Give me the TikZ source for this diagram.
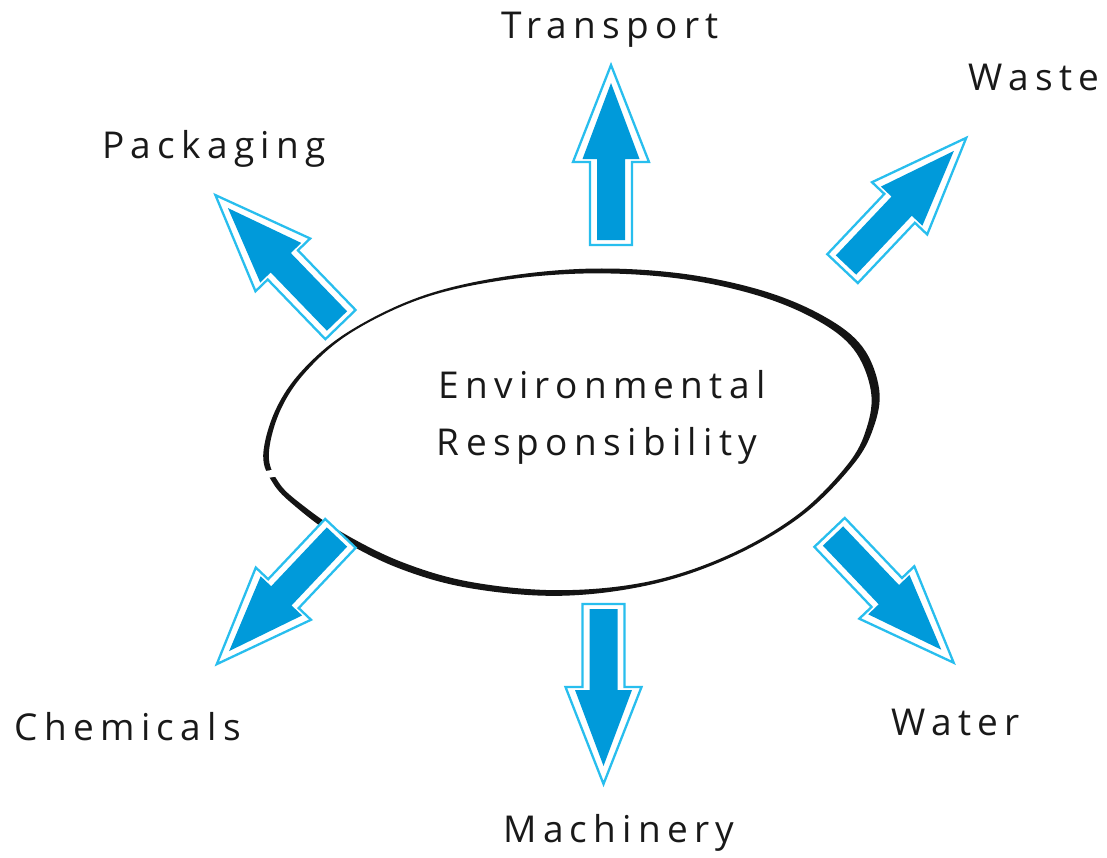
\documentclass[tikz,border=0pt]{standalone}
\usepackage{fontspec}
\setmainfont{Open Sans}[LetterSpace=17]
\usetikzlibrary{calc}
\definecolor{arrblue}{RGB}{0,154,218}
\definecolor{arrcyan}{RGB}{40,190,238}
\tikzset{
  barrow/.pic={
    \draw[arrcyan, line width=2.3pt, fill=white, line join=miter]
      (-5,-21) -- (78,-21) -- (78,-38) -- (175,0) -- (78,38) -- (78,21) -- (-5,21) -- cycle;
    \fill[arrblue]
      (0,-14) -- (81,-14) -- (81,-28.5) -- (157,0) -- (81,28.5) -- (81,14) -- (0,14) -- cycle;
  },
  lbl/.style={font=\fontsize{37}{40}\selectfont, anchor=base, inner sep=0pt, text=black!90}
}
\begin{document}
\begin{tikzpicture}[x=1pt,y=-1pt]
\useasboundingbox[fill=white] (0,0) rectangle (1107,857);
\coordinate (c) at (570,432);
% egg outline with varying width
\fill[black!92, even odd rule]
  plot[smooth cycle, tension=0.6] coordinates {
    ($(266,455)!-2.8pt!(c)$) ($(278,410)!-2.4pt!(c)$) ($(305,370)!-2pt!(c)$)
    ($(350,332)!-1.3pt!(c)$) ($(420,298)!-1.3pt!(c)$) ($(500,279)!-1.7pt!(c)$)
    ($(590,271)!-2.4pt!(c)$) ($(680,276)!-3pt!(c)$) ($(760,293)!-3.8pt!(c)$)
    ($(820,318)!-4.2pt!(c)$) ($(858,348)!-4.5pt!(c)$) ($(875,390)!-4.2pt!(c)$)
    ($(870,428)!-3.4pt!(c)$) ($(850,465)!-2.6pt!(c)$) ($(800,515)!-2pt!(c)$)
    ($(730,556)!-1.7pt!(c)$) ($(650,583)!-1.8pt!(c)$) ($(560,593)!-2.8pt!(c)$)
    ($(470,585)!-3.4pt!(c)$) ($(400,565)!-4pt!(c)$) ($(340,535)!-4pt!(c)$)
    ($(298,505)!-3.4pt!(c)$) ($(276,483)!-2.8pt!(c)$)}
  plot[smooth cycle, tension=0.6] coordinates {
    ($(266,455)!2.8pt!(c)$) ($(278,410)!2.4pt!(c)$) ($(305,370)!2pt!(c)$)
    ($(350,332)!1.3pt!(c)$) ($(420,298)!1.3pt!(c)$) ($(500,279)!1.7pt!(c)$)
    ($(590,271)!2.4pt!(c)$) ($(680,276)!3pt!(c)$) ($(760,293)!3.8pt!(c)$)
    ($(820,318)!4.2pt!(c)$) ($(858,348)!4.5pt!(c)$) ($(875,390)!4.2pt!(c)$)
    ($(870,428)!3.4pt!(c)$) ($(850,465)!2.6pt!(c)$) ($(800,515)!2pt!(c)$)
    ($(730,556)!1.7pt!(c)$) ($(650,583)!1.8pt!(c)$) ($(560,593)!2.8pt!(c)$)
    ($(470,585)!3.4pt!(c)$) ($(400,565)!4pt!(c)$) ($(340,535)!4pt!(c)$)
    ($(298,505)!3.4pt!(c)$) ($(276,483)!2.8pt!(c)$)};
% small break in the outline
\fill[white] (254,473) -- (283,468) -- (285,475) -- (256,480) -- cycle;

% block arrows
\pic[rotate=90]     at (611,240)   {barrow};
\pic[rotate=46.6]   at (846,265)   {barrow};
\pic[rotate=134]    at (337,321)   {barrow};
\pic[rotate=-133.4] at (337,537)   {barrow};
\pic[rotate=-90]    at (603.5,609) {barrow};
\pic[rotate=-46.4]  at (833,536)   {barrow};

% labels
\node[lbl] (transport) at (610,38)  {Transport};
\node[lbl] (waste)     at (1034,90) {Waste};
\node[lbl] (packaging) at (214,158) {Packaging};
\node[lbl] (chemicals) at (128,740) {Chemicals};
\node[lbl] (water)     at (956,735) {Water};
\node[lbl] (machinery) at (619,842) {Machinery};
\node[lbl] (env)       at (602,398) {Environmental};
\node[lbl] (resp)      at (597,455) {Responsibility};
\end{tikzpicture}
\end{document}
